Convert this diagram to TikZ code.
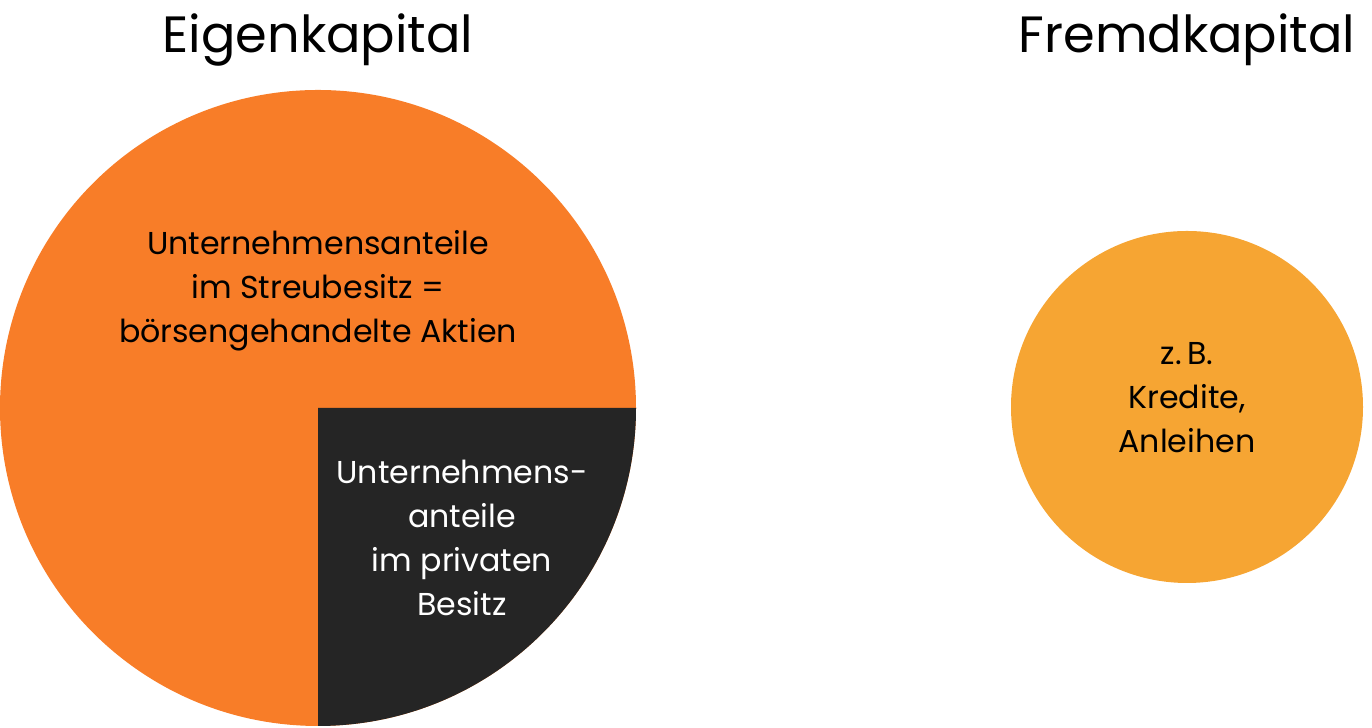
\documentclass[tikz,border=0pt]{standalone}
\usepackage{fontspec}
\setmainfont{Poppins}
\definecolor{eigen}{HTML}{F87D28}
\definecolor{privat}{HTML}{252525}
\definecolor{fremd}{HTML}{F6A533}
\begin{document}
\begin{tikzpicture}[x=0.01cm,y=0.01cm,
    title/.style={font=\fontsize{14.5}{16}\selectfont},
    label/.style={align=center,font=\fontsize{9}{12.5}\selectfont}]
    \useasboundingbox (0,0) rectangle (1372,728);
    % Eigenkapital
    \fill[eigen] (318,320) circle [radius=318];
    \fill[privat] (318,320) -- (636,320) arc [start angle=0,end angle=-90,radius=318] -- cycle;
    \node[title] (ek) at (318,688) {Eigenkapital};
    \node[label] (streu) at (318,437) {Unternehmensanteile\\im Streubesitz =\\börsengehandelte Aktien};
    \node[label,text=white] (priv) at (462,190) {Unternehmens-\\anteile\\im privaten\\Besitz};
    % Fremdkapital
    \fill[fremd] (1187,321) circle [radius=176];
    \node[title] (fk) at (1187,688) {Fremdkapital};
    \node[label] (kredit) at (1187,330) {z.\,B.\\Kredite,\\Anleihen};
\end{tikzpicture}
\end{document}
